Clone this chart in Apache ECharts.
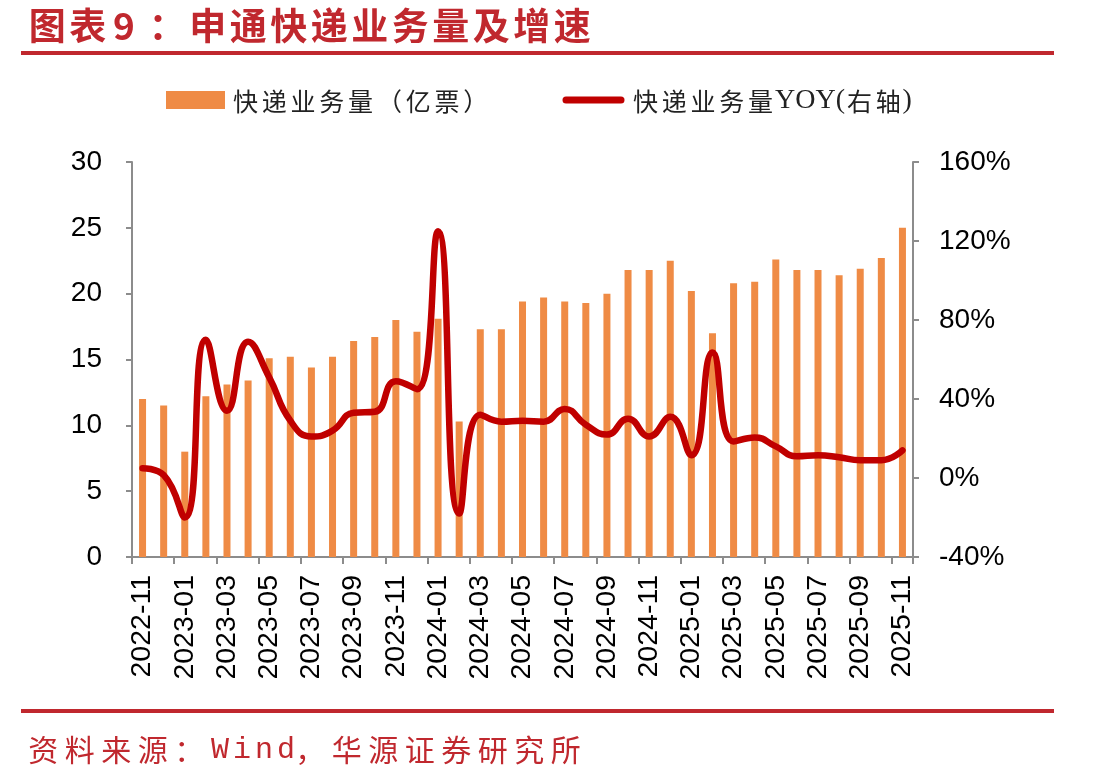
<!DOCTYPE html>
<html><head><meta charset="utf-8">
<script src="https://cdn.jsdelivr.net/npm/echarts@6/dist/echarts.min.js"></script>
<style>html,body{margin:0;padding:0;background:#fff}#c{width:1113px;height:784px}</style>
</head><body><div id="c"></div>
<script>
// ---- data ----
const categories = ['2022-11','2022-12','2023-01','2023-02','2023-03','2023-04','2023-05','2023-06','2023-07','2023-08','2023-09','2023-10','2023-11','2023-12','2024-01','2024-02','2024-03','2024-04','2024-05','2024-06','2024-07','2024-08','2024-09','2024-10','2024-11','2024-12','2025-01','2025-02','2025-03','2025-04','2025-05','2025-06','2025-07','2025-08','2025-09','2025-10','2025-11'];
const volume = [12.0,11.5,8.0,12.2,13.1,13.4,15.1,15.2,14.4,15.2,16.4,16.7,18.0,17.1,18.1,10.3,17.3,17.3,19.4,19.7,19.4,19.3,20.0,21.8,21.8,22.5,20.2,17.0,20.8,20.9,22.6,21.8,21.8,21.4,21.9,22.7,25.0];
const yoy = [5,1.5,-20,70,34,69,51,29,21,24,33,33.5,49,45,125,-18,32,28.5,29,28.5,35,27,22,30,21,31,11.5,63.5,18.5,20.5,16,11,11.5,10.5,9,9,14];
const seriesNames = ['快递业务量（亿票）','快递业务量YOY(右轴)'];
const titleParts = ['图表','9','：申通快递业务量及增速'];
const sourceParts = ['资料来源：','Wind','，华源证券研究所'];

// ---- helpers ----
const RED = '#C0282E';
const mctx = document.createElement('canvas').getContext('2d');
function isWide(ch){ return ch.charCodeAt(0) >= 0x2E80; }
function layoutText(str, x, y, o){
  const els = []; let cx = x;
  for (const ch of str){
    const wide = isWide(ch);
    const fam = wide ? o.family : (o.latinFamily || o.family);
    const size = wide ? o.size : (o.latinSize || o.size);
    const weight = o.weight || 'normal';
    let w;
    if (wide) w = o.adv;
    else if (o.latinAdv) w = o.latinAdv;
    else { mctx.font = weight + ' ' + size + 'px ' + fam; w = mctx.measureText(ch).width; }
    els.push({type:'text', silent:true, x: cx + w/2, y: y,
      style:{text: ch, fill: o.color, fontSize: size, fontFamily: fam, fontWeight: weight,
        textAlign:'center', align:'center', textVerticalAlign:'middle', verticalAlign:'middle'}});
    cx += w;
  }
  return els;
}
const CJK = '"Noto Sans CJK SC"';
const graphics = [];
// title
const tOpt = {size:37, adv:40.5, family:CJK, weight:'bold', color:RED};
graphics.push(...layoutText(titleParts[0], 27, 26, tOpt));
graphics.push(...layoutText(titleParts[1], 113, 26, tOpt));
graphics.push(...layoutText(titleParts[2], 147, 26, tOpt));
// rules
graphics.push({type:'rect', silent:true, shape:{x:21, y:51, width:1033, height:4}, style:{fill:RED}});
graphics.push({type:'rect', silent:true, shape:{x:21, y:709, width:1033, height:4}, style:{fill:RED}});
// source
const sOpt = {size:30, adv:36.5, family:CJK, latinFamily:'"Liberation Mono"', latinAdv:22, color:RED};
graphics.push(...layoutText(sourceParts[0], 25, 750, sOpt));
graphics.push(...layoutText(sourceParts[1], 209, 750, sOpt));
graphics.push(...layoutText(sourceParts[2], 292, 750, sOpt));
// legend
graphics.push({type:'rect', silent:true, shape:{x:166, y:91, width:59, height:18}, style:{fill:'#EF8B45'}});
graphics.push({type:'line', silent:true, shape:{x1:566, y1:100, x2:621, y2:100}, style:{stroke:'#C00000', lineWidth:7, lineCap:'round'}});
const lOpt = {size:25, adv:28.8, family:CJK, latinFamily:'"Liberation Serif"', latinSize:28, color:'#222'};
graphics.push(...layoutText(seriesNames[0], 231, 101, lOpt));
graphics.push(...layoutText(seriesNames[1], 631, 101, lOpt));

const axisGray = '#8C8C8C';
const labelFont = '"Liberation Sans", Arial, sans-serif';
const chart = echarts.init(document.getElementById('c'), null, {renderer:'canvas'});
chart.setOption({
  animation:false,
  backgroundColor:'#fff',
  grid:{left:132, right:200, top:162, bottom:227, containLabel:false},
  xAxis:{type:'category', data:categories, boundaryGap:true,
    axisLine:{show:true, lineStyle:{color:axisGray, width:2}},
    axisTick:{show:true, interval:1, length:7, lineStyle:{color:axisGray, width:2}},
    axisLabel:{interval:1, rotate:90, margin:18, fontSize:28.5, color:'#000', fontFamily:labelFont},
    splitLine:{show:false}},
  yAxis:[
    {type:'value', min:0, max:30, interval:5, position:'left',
      axisLine:{show:true, lineStyle:{color:axisGray, width:2}},
      axisTick:{show:true, length:6, lineStyle:{color:axisGray, width:2}},
      axisLabel:{margin:30, fontSize:28, color:'#000', fontFamily:labelFont},
      splitLine:{show:false}},
    {type:'value', min:-40, max:160, interval:40, position:'right',
      axisLine:{show:true, lineStyle:{color:axisGray, width:2}},
      axisTick:{show:true, length:6, lineStyle:{color:axisGray, width:2}},
      axisLabel:{margin:26, fontSize:28, color:'#000', fontFamily:labelFont, formatter:'{value}%'},
      splitLine:{show:false}}
  ],
  series:[
    {name:seriesNames[0], type:'bar', data:volume, yAxisIndex:0, barWidth:7, itemStyle:{color:'#EF8B45'}},
    {name:seriesNames[1], type:'line', data:yoy, yAxisIndex:1, smooth:0.5, symbol:'none', z:5,
      lineStyle:{color:'#C00000', width:6.5, cap:'round', join:'round'}}
  ],
  graphic: graphics
});
</script>
</body></html>
